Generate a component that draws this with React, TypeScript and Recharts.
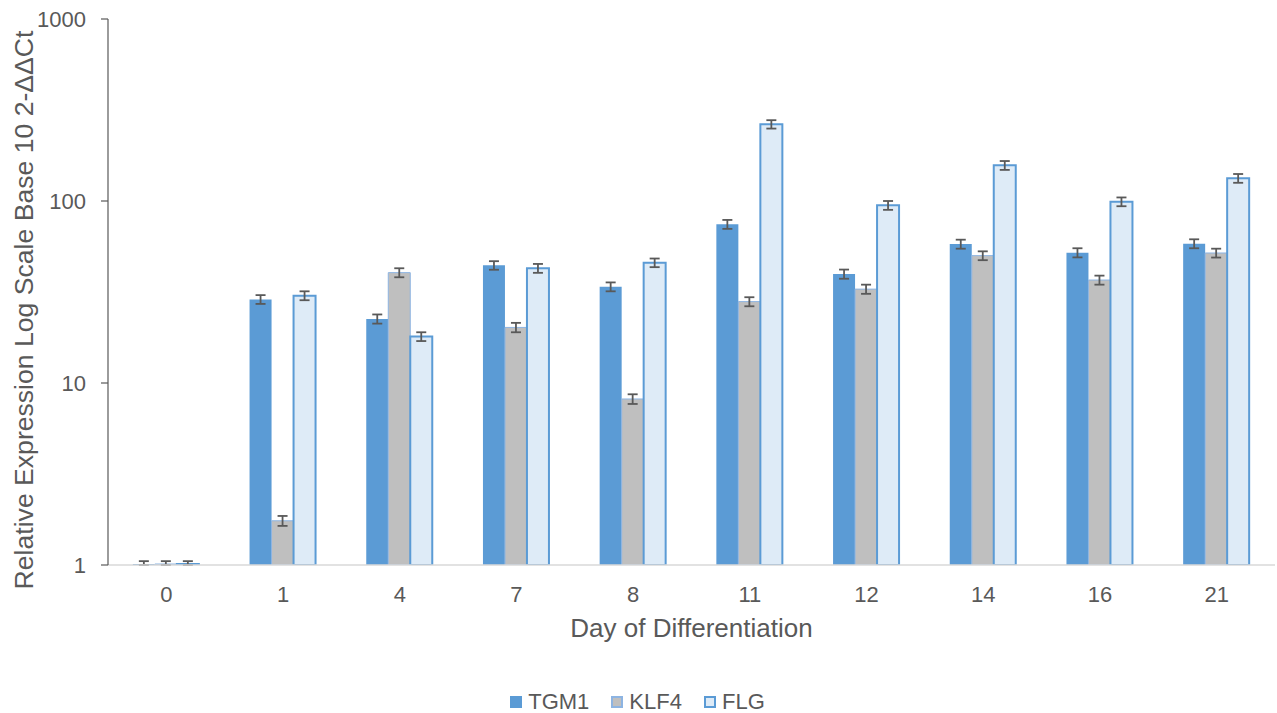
import React from 'react';
import { BarChart, Bar, XAxis, YAxis, ErrorBar, Legend, Label } from 'recharts';

const days = ['0', '1', '4', '7', '8', '11', '12', '14', '16', '21'];
const tgm1 = [1, 28.8, 22.5, 44.3, 33.8, 74.5, 39.7, 58.0, 52.0, 58.3];
const klf4 = [1, 1.75, 40.4, 20.2, 8.17, 28.0, 32.8, 50.1, 36.8, 51.8];
const flg = [1, 30.2, 18.0, 42.7, 45.8, 264, 94.7, 157, 99.1, 133.3];
const tgm1Err = [0.05, 1.6, 1.3, 2.4, 1.9, 4.2, 2.3, 3.3, 3.0, 3.3];
const klf4Err = [0.05, 0.11, 2.3, 1.2, 0.5, 1.6, 1.9, 2.8, 2.1, 2.9];
const flgErr = [0.05, 1.7, 1.0, 2.4, 2.5, 14, 5.3, 8.8, 5.5, 7.4];
const yTicks = [1, 10, 100, 1000];

// day 0 sits on the axis floor: only the upper half of its error bar is shown
const data = days.map((d, i) => ({
  day: d,
  TGM1: tgm1[i],
  KLF4: klf4[i],
  FLG: flg[i],
  TGM1e: i === 0 ? [0, tgm1Err[i]] : tgm1Err[i],
  KLF4e: i === 0 ? [0, klf4Err[i]] : klf4Err[i],
  FLGe: i === 0 ? [0, flgErr[i]] : flgErr[i],
}));

const FONT = '"Liberation Sans", Arial, sans-serif';
const TEXT = '#595959';

const legendItems = [
  { name: 'TGM1', fill: '#5B9BD5', stroke: '#5B9BD5' },
  { name: 'KLF4', fill: '#BFBFBF', stroke: '#8DB4E2' },
  { name: 'FLG', fill: '#DEEBF7', stroke: '#5B9BD5' },
];

const LegendContent = () => (
  <div
    style={{
      height: 34,
      boxSizing: 'border-box',
      paddingTop: 11,
      display: 'flex',
      justifyContent: 'center',
      alignItems: 'center',
      fontFamily: FONT,
      fontSize: 22,
      color: TEXT,
    }}
  >
    {legendItems.map((it, i) => (
      <div key={it.name} style={{ display: 'flex', alignItems: 'center', marginLeft: i === 0 ? 0 : 22, height: 22 }}>
        <span
          style={{
            display: 'inline-block',
            width: 12,
            height: 12,
            boxSizing: 'border-box',
            background: it.fill,
            border: `2px solid ${it.stroke}`,
            marginRight: 6,
          }}
        />
        <span style={{ lineHeight: '22px' }}>{it.name}</span>
      </div>
    ))}
  </div>
);

export default function App() {
  return (
    <div style={{ position: 'absolute', left: 0, top: 0, background: '#fff' }}>
      <BarChart
        width={1277}
        height={713}
        data={data}
        margin={{ top: 19, right: 2, bottom: 0, left: 0 }}
        barCategoryGap="21.3%"
        barGap={0}
      >
        <XAxis
          dataKey="day"
          height={114}
          tickLine={false}
          tickSize={0}
          tickMargin={21}
          axisLine={{ stroke: '#D9D9D9', strokeWidth: 1.5 }}
          tick={{ fill: TEXT, fontSize: 22, fontFamily: FONT }}
        >
          <Label
            value="Day of Differentiation"
            position="insideTop"
            offset={54}
            style={{ fill: TEXT, fontSize: 26, fontFamily: FONT }}
          />
        </XAxis>
        <YAxis
          type="number"
          scale="log"
          domain={[1, 1000]}
          ticks={yTicks}
          allowDataOverflow
          width={108}
          tickSize={7}
          tickMargin={15}
          axisLine={{ stroke: '#595959', strokeWidth: 1.2 }}
          tickLine={{ stroke: '#595959', strokeWidth: 1.2 }}
          tick={{ fill: TEXT, fontSize: 22, fontFamily: FONT }}
        >
          <Label
            content={(props: any) => {
              const vb = props.viewBox || { x: 0, y: 19, width: 108, height: 546 };
              const cx = vb.x + 33;
              const cy = vb.y + vb.height / 2 + 18;
              return (
                <text
                  x={cx}
                  y={cy}
                  transform={`rotate(-90, ${cx}, ${cy})`}
                  textAnchor="middle"
                  fill={TEXT}
                  fontSize={26.6}
                  fontFamily={FONT}
                >
                  Relative Expression Log Scale Base 10 2-ΔΔCt
                </text>
              );
            }}
          />
        </YAxis>
        <Legend verticalAlign="bottom" content={<LegendContent />} />
        <Bar dataKey="TGM1" fill="#5B9BD5" minPointSize={1} isAnimationActive={false}>
          <ErrorBar dataKey="TGM1e" width={5} stroke="#595959" strokeWidth={1.8} />
        </Bar>
        <Bar dataKey="KLF4" fill="#BFBFBF" stroke="#8DB4E2" strokeWidth={1} minPointSize={1} isAnimationActive={false}>
          <ErrorBar dataKey="KLF4e" width={5} stroke="#595959" strokeWidth={1.8} />
        </Bar>
        <Bar dataKey="FLG" fill="#DEEBF7" stroke="#5B9BD5" strokeWidth={2} minPointSize={1} isAnimationActive={false}>
          <ErrorBar dataKey="FLGe" width={5} stroke="#595959" strokeWidth={1.8} />
        </Bar>
      </BarChart>
    </div>
  );
}
